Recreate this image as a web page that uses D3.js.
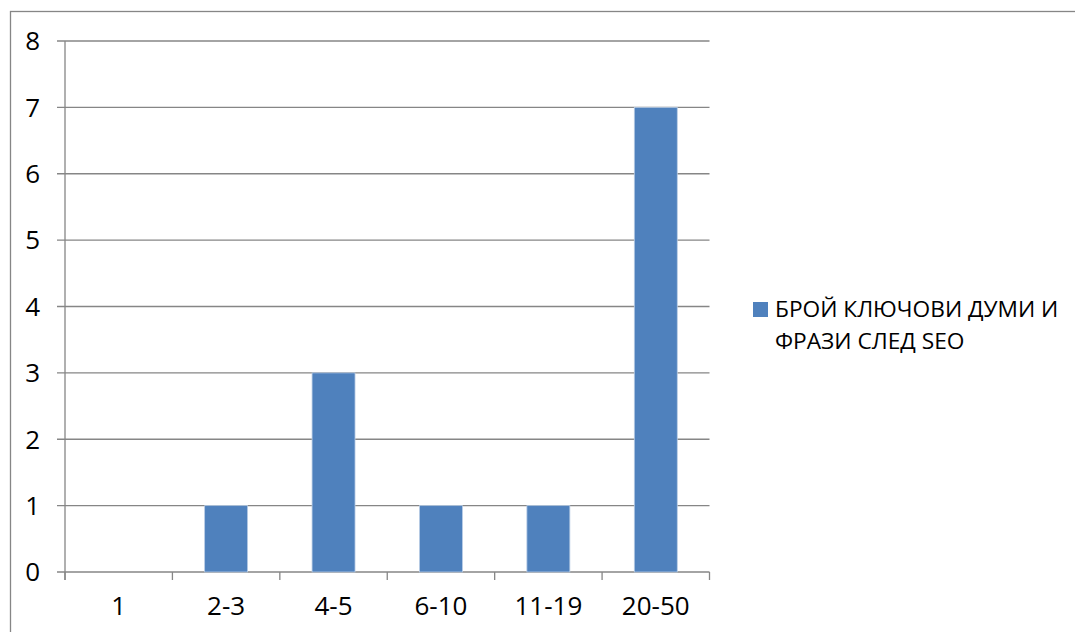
<!DOCTYPE html>
<html>
<head>
<meta charset="utf-8">
<script src="https://cdn.jsdelivr.net/npm/d3@7"></script>
<style>
  html, body { margin: 0; padding: 0; background: #fff; }
  svg { display: block; }
</style>
</head>
<body>
<div id="chart"></div>
<script>
const width = 1075;
const height = 632;

// --- data ---
const categories = ["1", "2-3", "4-5", "6-10", "11-19", "20-50"];
const values = [0, 1, 3, 1, 1, 7];
const seriesName = ["БРОЙ КЛЮЧОВИ ДУМИ И", "ФРАЗИ СЛЕД SEO"];
const yTicks = [0, 1, 2, 3, 4, 5, 6, 7, 8];

const plot = { left: 65, right: 709.5, top: 41, bottom: 572 };
const gridColor = "#868686";
const barColor = "#4f81bd";
const fontFamily = "'Open Sans', sans-serif";

const svg = d3.select("#chart")
    .append("svg")
    .attr("width", width)
    .attr("height", height);

// outer frame (only left + top edges are visible in the window)
svg.append("rect")
    .attr("x", 10.5)
    .attr("y", 11.5)
    .attr("width", 1100)
    .attr("height", 700)
    .attr("fill", "none")
    .attr("stroke", gridColor)
    .attr("stroke-width", 1.3);

const x = d3.scaleBand()
    .domain(categories)
    .range([plot.left, plot.right])
    .paddingInner(0.6)
    .paddingOuter(0.3);

const y = d3.scaleLinear()
    .domain([0, 8])
    .range([plot.bottom, plot.top]);

// category boundaries for the small x ticks
const xEdge = d3.scaleLinear()
    .domain([0, categories.length])
    .range([plot.left, plot.right]);

// --- gridlines ---
svg.append("g")
    .selectAll("line")
    .data(yTicks)
    .enter()
    .append("line")
    .attr("x1", plot.left - 8)
    .attr("x2", plot.right)
    .attr("y1", d => y(d))
    .attr("y2", d => y(d))
    .attr("stroke", gridColor)
    .attr("stroke-width", 1.3);

// y axis line
svg.append("line")
    .attr("x1", plot.left)
    .attr("x2", plot.left)
    .attr("y1", plot.top)
    .attr("y2", plot.bottom + 8)
    .attr("stroke", gridColor)
    .attr("stroke-width", 1.3);

// x tick marks between categories
svg.append("g")
    .selectAll("line")
    .data(d3.range(categories.length + 1))
    .enter()
    .append("line")
    .attr("x1", d => xEdge(d))
    .attr("x2", d => xEdge(d))
    .attr("y1", plot.bottom)
    .attr("y2", plot.bottom + 8)
    .attr("stroke", gridColor)
    .attr("stroke-width", 1.3);

// --- bars ---
svg.append("g")
    .selectAll("rect")
    .data(categories.map((c, i) => ({ cat: c, value: values[i] })))
    .enter()
    .append("rect")
    .attr("x", d => x(d.cat))
    .attr("y", d => y(d.value))
    .attr("width", x.bandwidth())
    .attr("height", d => y(0) - y(d.value))
    .attr("fill", barColor)
    .attr("stroke", d => d.value > 0 ? "#b9cde5" : "none")
    .attr("stroke-width", 0.8);

// --- tick labels ---
svg.append("g")
    .selectAll("text")
    .data(yTicks)
    .enter()
    .append("text")
    .attr("x", 40)
    .attr("y", d => y(d))
    .attr("dy", "0.36em")
    .attr("text-anchor", "end")
    .style("font", `26px ${fontFamily}`)
    .attr("fill", "#000")
    .text(d => d);

svg.append("g")
    .selectAll("text")
    .data(categories)
    .enter()
    .append("text")
    .attr("x", d => x(d) + x.bandwidth() / 2)
    .attr("y", 615)
    .attr("text-anchor", "middle")
    .style("font", `26px ${fontFamily}`)
    .attr("fill", "#000")
    .text(d => d);

// --- legend ---
const legend = svg.append("g");

legend.append("rect")
    .attr("x", 753)
    .attr("y", 302)
    .attr("width", 15)
    .attr("height", 15)
    .attr("fill", barColor);

legend.selectAll("text")
    .data(seriesName)
    .enter()
    .append("text")
    .attr("x", 775)
    .attr("y", (d, i) => 317 + i * 32)
    .style("font", `22.7px ${fontFamily}`)
    .attr("fill", "#000")
    .text(d => d);
</script>
</body>
</html>
